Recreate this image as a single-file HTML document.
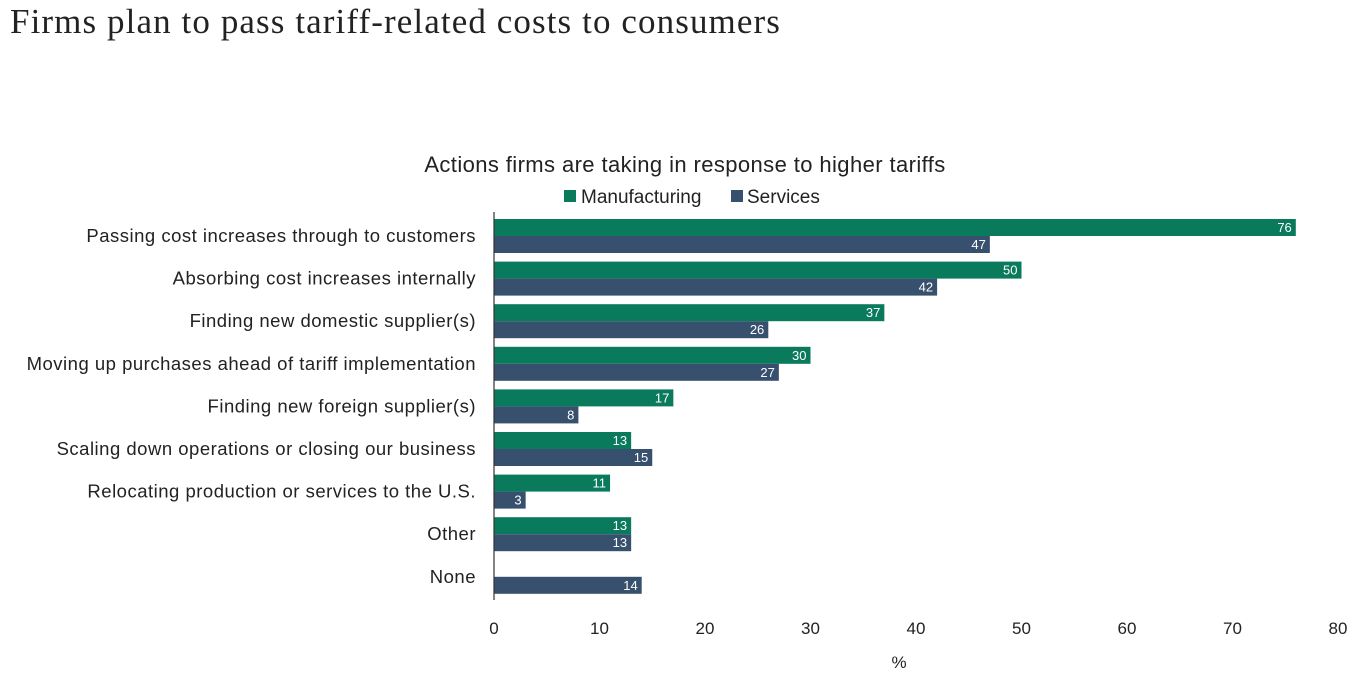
<!DOCTYPE html>
<html><head><meta charset="utf-8"><style>
body{margin:0;background:#fff;width:1372px;height:678px;overflow:hidden;font-family:"Liberation Sans",sans-serif}
#title{position:absolute;left:10px;top:2px;font-family:"Liberation Serif",serif;font-size:35px;letter-spacing:1.1px;color:#222}
</style></head><body>
<div id="title">Firms plan to pass tariff-related costs to consumers</div>
<svg id="chart" width="1372" height="678" style="position:absolute;left:0;top:0"></svg>
<script>
const categories=["Passing cost increases through to customers","Absorbing cost increases internally","Finding new domestic supplier(s)","Moving up purchases ahead of tariff implementation","Finding new foreign supplier(s)","Scaling down operations or closing our business","Relocating production or services to the U.S.","Other","None"];
const manufacturing=[76,50,37,30,17,13,11,13,0];
const services=[47,42,26,27,8,15,3,13,14];
const ticks=[0,10,20,30,40,50,60,70,80];
const NS="http://www.w3.org/2000/svg";
const svg=document.getElementById('chart');
const x0=494,x1=1338,xmax=80,top0=219,step=42.6,bh=17;
const xs=v=>x0+v/xmax*(x1-x0);
function el(t,a,txt){const e=document.createElementNS(NS,t);for(const k in a)e.setAttribute(k,a[k]);if(txt!==undefined)e.textContent=txt;svg.appendChild(e);return e;}
let t=el('text',{x:685,y:172,'font-size':22,'letter-spacing':0.4,'text-anchor':'middle',fill:'#222'},'Actions firms are taking in response to higher tariffs');


let r=el('rect',{x:564,y:190,width:12,height:12,fill:'#0a7a5c'});


t=el('text',{x:581,y:203,'font-size':19,fill:'#222'},'Manufacturing');


r=el('rect',{x:731,y:190,width:12,height:12,fill:'#36506e'});


t=el('text',{x:747,y:203,'font-size':19,fill:'#222'},'Services');


categories.forEach((c,i)=>{
  const y=top0+i*step;
  const l=el('text',{x:476,y:y+bh+6,'font-size':18.5,'letter-spacing':0.5,'text-anchor':'end',fill:'#222'},c);
  
  
  [[manufacturing[i],'#0a7a5c',y,'manufacturing'],[services[i],'#36506e',y+bh,'services']].forEach(([v,col,yy,nm])=>{
    if(!v)return;
    const b=el('rect',{x:x0,y:yy,width:xs(v)-x0,height:bh,fill:col});
    
    
    const tv=el('text',{x:xs(v)-4,y:yy+13,'font-size':13,'text-anchor':'end',fill:'#fff'},String(v));
    
    
  });
});
const ax=el('line',{x1:x0,y1:212,x2:x0,y2:600,stroke:'#333','stroke-width':1.2});


ticks.forEach(v=>{
  const tk=el('text',{x:xs(v),y:634,'font-size':17,'text-anchor':'middle',fill:'#222'},String(v));
  
  
});
t=el('text',{x:899,y:668,'font-size':17,'text-anchor':'middle',fill:'#222'},'%');


</script>
</body></html>
